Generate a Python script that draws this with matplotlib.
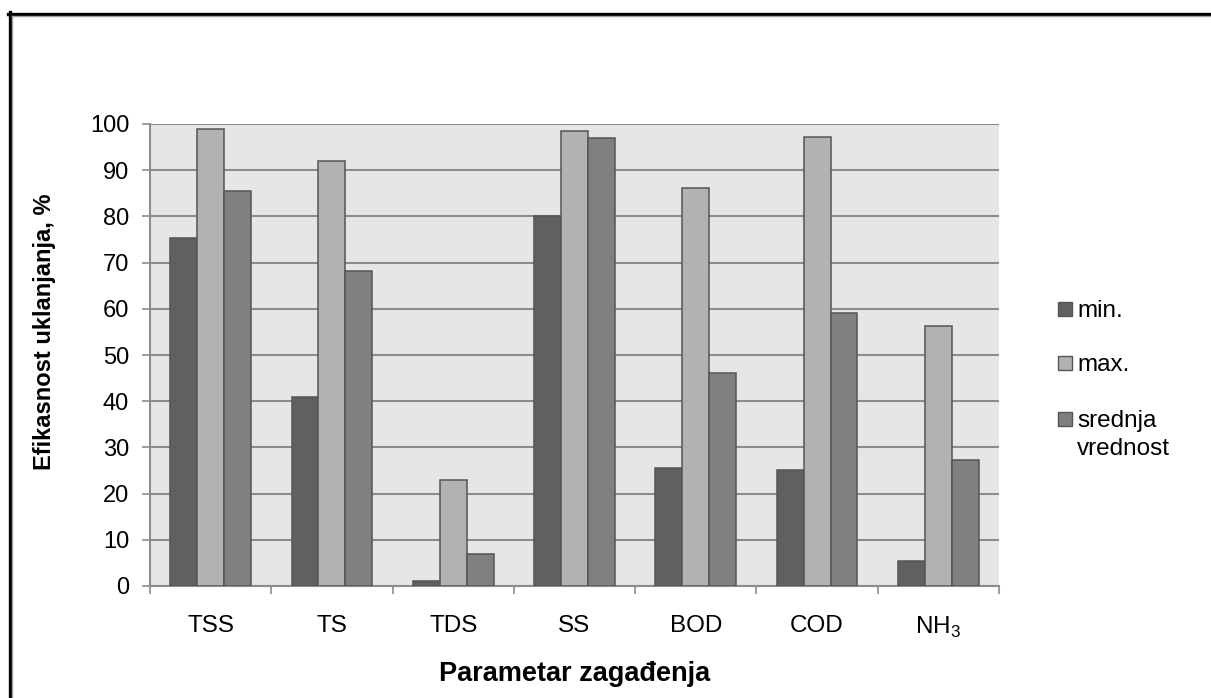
import matplotlib
matplotlib.use("Agg")
import matplotlib.pyplot as plt
import numpy as np
from matplotlib.lines import Line2D
from matplotlib.patches import Rectangle

plt.rcParams["font.family"] = ["Liberation Sans", "DejaVu Sans"]
plt.rcParams["mathtext.fontset"] = "custom"
plt.rcParams["mathtext.rm"] = "Liberation Sans"

categories = ["TSS", "TS", "TDS", "SS", "BOD", "COD", r"NH$_\mathrm{3}$"]
min_vals = [75.4, 41.0, 1.0, 80.1, 25.6, 25.1, 5.5]
max_vals = [98.9, 92.0, 23.0, 98.5, 86.1, 97.2, 56.2]
mean_vals = [85.6, 68.2, 6.9, 97.0, 46.1, 59.1, 27.2]
series_labels = ["min.", "max.", "srednja\nvrednost"]
series_colors = ["#606060", "#b2b2b2", "#808080"]

W, H = 1211, 698
fig = plt.figure(figsize=(W / 100, H / 100), dpi=100)
ax = fig.add_axes([150 / W, 1 - 586 / H, 849 / W, 462 / H])
ax.set_facecolor("#e6e6e6")

x = np.arange(len(categories))
bw = 1 / 4.5
for i, (vals, col) in enumerate(zip([min_vals, max_vals, mean_vals], series_colors)):
    ax.bar(x + (i - 1) * bw, vals, width=bw, color=col, edgecolor="#555555",
           linewidth=1.1, zorder=3)

ax.set_xlim(-0.5, len(categories) - 0.5)
ax.set_ylim(0, 100)
ax.set_yticks(np.arange(0, 101, 10))
ax.yaxis.grid(True, color="#8c8c8c", linewidth=1.5, zorder=1)
ax.set_axisbelow(True)

ax.set_xticks(x)
ax.set_xticklabels(categories, fontsize=17.5)
ax.set_xticks(np.arange(-0.5, len(categories)), minor=True)
ax.tick_params(axis="x", which="major", length=0, pad=21)
ax.tick_params(axis="x", which="minor", length=6, width=1.2, color="#8c8c8c", direction="out")
ax.tick_params(axis="y", length=6, width=1.2, color="#8c8c8c", labelsize=17, pad=9)

for s in ["top", "right"]:
    ax.spines[s].set_visible(False)
for s in ["left", "bottom"]:
    ax.spines[s].set_color("#8c8c8c")
    ax.spines[s].set_linewidth(1.5)

fig.text(575 / W, 1 - 674 / H, "Parametar zagađenja", fontsize=19.5, fontweight="bold",
         ha="center", va="center")
fig.text(45 / W, 1 - 332 / H, "Efikasnost uklanjanja, %", fontsize=17, fontweight="bold",
         ha="center", va="center", rotation=90)

# legend, drawn by hand so the swatch sits on the first text line
leg_y = [309, 363, 419]
for lab, col, yy in zip(series_labels, series_colors, leg_y):
    fig.add_artist(Rectangle((1058 / W, 1 - (yy + 7) / H), 14 / W, 14 / H, facecolor=col,
                             edgecolor="#555555", linewidth=1.0, transform=fig.transFigure))
    for j, line in enumerate(lab.split("\n")):
        fig.text(1077 / W, 1 - (yy + 8 + 28 * j) / H, line, fontsize=17.5,
                 ha="left", va="baseline")

# outer frame
fig.add_artist(Line2D([8 / W, 1], [1 - 13.5 / H] * 2, color="black", linewidth=2.4, transform=fig.transFigure))
fig.add_artist(Line2D([9.5 / W] * 2, [0, 1 - 12 / H], color="black", linewidth=2.4, transform=fig.transFigure))
fig.add_artist(Line2D([12 / W, 1], [1 - 15.8 / H] * 2, color="#a0a0a0", linewidth=1.0, transform=fig.transFigure))
fig.add_artist(Line2D([12 / W] * 2, [0, 1 - 15.8 / H], color="#a0a0a0", linewidth=1.0, transform=fig.transFigure))

fig.savefig("out.png", dpi=100)
